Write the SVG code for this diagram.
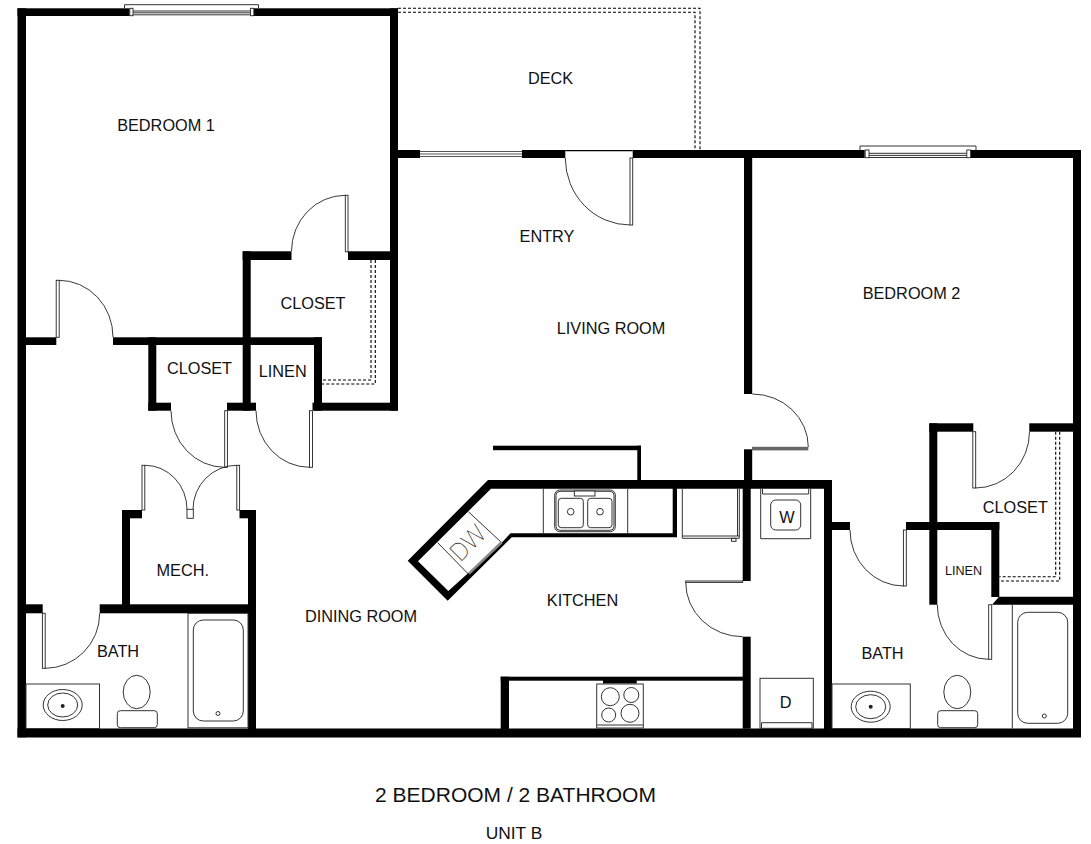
<svg xmlns="http://www.w3.org/2000/svg" width="1091" height="844" viewBox="0 0 1091 844">
<style>
.w{fill:#000;stroke:none}
.t{fill:none;stroke:#333;stroke-width:1}
.a{fill:none;stroke:#222;stroke-width:.9}
.l{fill:#fff;stroke:#222;stroke-width:.9}
.d{fill:none;stroke:#000;stroke-width:1.1;stroke-dasharray:3 2}
.g{fill:#111;font-family:"Liberation Sans",Arial,sans-serif;font-size:16.3px;text-anchor:middle}
</style>
<rect width="1091" height="844" fill="#fff"/>
<g id="walls" class="w">
<rect x="17.5" y="8.3" width="8.5" height="729"/>
<rect x="17.5" y="728.5" width="1063.5" height="9"/>
<rect x="17.5" y="8.3" width="112" height="7.7"/>
<rect x="254" y="8.3" width="144" height="7.7"/>
<rect x="390" y="8.3" width="8" height="402.4"/>
<rect x="398" y="150" width="22" height="8"/>
<rect x="522" y="150" width="43.3" height="8"/>
<rect x="632.7" y="150" width="232" height="8"/>
<rect x="970.7" y="150" width="110.3" height="8"/>
<rect x="1073" y="150" width="8" height="587"/>
<rect x="744" y="158" width="8.2" height="236"/>
<rect x="744" y="449.3" width="8.2" height="35"/>
<rect x="26" y="337.3" width="30.3" height="7.7"/>
<rect x="113" y="337.3" width="209" height="7.7"/>
<rect x="148.3" y="337.3" width="8" height="73.4"/>
<rect x="148.3" y="402.7" width="22.7" height="8"/>
<rect x="227" y="402.7" width="29" height="8"/>
<rect x="242.7" y="251.3" width="8" height="159.4"/>
<rect x="242.7" y="251.3" width="48.8" height="8.7"/>
<rect x="348" y="251.3" width="42" height="8.7"/>
<rect x="314" y="337.3" width="8" height="73.4"/>
<rect x="312.5" y="402.7" width="85.5" height="8"/>
<rect x="122" y="510" width="8" height="100"/>
<rect x="122" y="510" width="20" height="8.3"/>
<rect x="239.5" y="510" width="16.5" height="8.3"/>
<rect x="248" y="510" width="8" height="222"/>
<rect x="26" y="604.3" width="16.7" height="9"/>
<rect x="99.7" y="604.3" width="156.3" height="9"/>
<path d="M488 480H832V488.7H491L418 561.3L448.3 591L468 573.3L501.7 542.7L510.5 533.3H672.7V488.7H677V537.3H511.7L447.7 600.7L407.7 560.7Z"/>
<rect x="637.3" y="445.7" width="3.7" height="36"/>
<rect x="493" y="445.7" width="148" height="4.5"/>
<rect x="742.7" y="480" width="8" height="101"/>
<rect x="742.7" y="636.7" width="8" height="92"/>
<rect x="824" y="480" width="8" height="250"/>
<rect x="500.7" y="676.7" width="8.3" height="54"/>
<rect x="500.7" y="676.7" width="243" height="4"/>
<rect x="603" y="680" width="33.7" height="3.5"/>
<rect x="929.3" y="423.3" width="8" height="181.4"/>
<rect x="929.3" y="423.3" width="44" height="8.4"/>
<rect x="1029.3" y="423.3" width="45" height="8.4"/>
<rect x="906" y="522" width="93.3" height="8"/>
<rect x="832" y="522" width="18" height="8"/>
<rect x="991.3" y="522" width="8" height="75"/>
<path d="M999 596.7H1075V604.7H992Z"/>
</g>
<g id="windows">
<path class="t" d="M124.5 8.3V4.7H258.5V8.3"/>
<rect class="l" x="129.8" y="8.3" width="3.2" height="7.4"/>
<rect class="l" x="250.6" y="8.3" width="3.2" height="7.4"/>
<path class="t" d="M133 11H250.6M133 12.8H250.6M133 14.8H250.6"/>
<path class="t" d="M860 150V146H976V150"/>
<rect class="l" x="865.2" y="150" width="3.8" height="7.7"/>
<rect class="l" x="966.8" y="150" width="3.8" height="7.7"/>
<path class="t" d="M869 153.3H966.8M869 155.4H966.8M869 157.5H966.8"/>
<path d="M420 151.5H522M420 154H522M420 156.5H522" fill="none" stroke="#555" stroke-width="1"/>
</g>
<g id="doors">
<rect class="l" x="56.2" y="280.3" width="3" height="57"/><path class="a" d="M59 280.3A54 56.7 0 0 1 113 337.3"/>
<rect class="l" x="345.3" y="195.3" width="2.7" height="56.5"/><path class="a" d="M345.3 195.3A53.8 56 0 0 0 291.5 251.3"/>
<rect class="l" x="224.7" y="410.7" width="2.7" height="56.6"/><path class="a" d="M171 410.7A53.7 56.6 0 0 0 224.7 467.3"/>
<rect class="l" x="309.5" y="410.7" width="3" height="56.6"/><path class="a" d="M256 410.7A53.5 56.6 0 0 0 309.5 467.3"/>
<rect class="l" x="142" y="465.3" width="2.8" height="44.7"/><path class="a" d="M145 465.3A42 44 0 0 1 187 509.3"/>
<rect class="l" x="236.8" y="465.3" width="2.8" height="44.7"/><path class="a" d="M236.8 465.3A43.8 44 0 0 0 193 509.3"/>
<rect class="l" x="187" y="509.3" width="6.3" height="9"/>
<rect class="l" x="42.4" y="613.3" width="2.8" height="55"/><path class="a" d="M45 668.3A54.7 55 0 0 0 99.7 613.3"/>
<path d="M565.3 150.6H632.7" fill="none" stroke="#000" stroke-width="1.2"/>
<rect class="l" x="630" y="158" width="2.7" height="67"/><path class="a" d="M565.3 158A64.7 67 0 0 0 630 225"/>
<rect x="752" y="446.8" width="56.3" height="3.6" fill="#666"/><path class="a" d="M752.2 394A56.1 53 0 0 1 808.3 447"/>
<rect class="l" x="685.7" y="581" width="57" height="1.4"/><path class="a" d="M685.7 582.4A57 54.3 0 0 0 742.7 636.7"/>
<rect class="l" x="972.8" y="431.7" width="2.9" height="56.3"/><path class="a" d="M975.5 488A54 56.3 0 0 0 1029.5 431.7"/>
<rect class="l" x="903.4" y="530" width="2.9" height="56"/><path class="a" d="M850 530A53.5 56 0 0 0 903.5 586"/>
<rect class="l" x="988.7" y="604.7" width="3" height="54.6"/><path class="a" d="M937.3 604.7A51.4 54.6 0 0 0 988.7 659.3"/>
</g>
<g id="dashed">
<path class="d" d="M398 8.3H700V150M398 12.3H695V150"/>
<path class="d" d="M371 260V380H322M375.3 260V384H322"/>
<path class="d" d="M1055.7 431.7V576.7H999.3M1059.7 431.7V581H999.3"/>
</g>
<g id="kitchen-fixtures">
<path class="t" d="M468.3 511.7L501.7 542.7M437.7 542.7L468.3 574"/>
<path d="M469 573.6L501.7 542.2" fill="none" stroke="#888" stroke-width="2.6"/>
<text x="0" y="0" transform="translate(474 549) rotate(-45)" style="font-family:Roboto,'Liberation Sans',sans-serif;font-weight:100;font-size:25px;text-anchor:middle;fill:#111">DW</text>
<path class="t" d="M543.3 489V533M627.7 489V533"/>
<rect class="t" x="554.7" y="490" width="60.6" height="41.7" rx="5"/>
<rect class="t" x="556" y="491.3" width="58" height="39" rx="4"/>
<rect class="t" x="558.3" y="498.3" width="25" height="29.4" rx="3"/>
<rect class="t" x="587.7" y="498.3" width="24.3" height="29.4" rx="3"/>
<rect class="l" x="574.3" y="491" width="20.7" height="5"/>
<circle class="t" cx="570.7" cy="511.7" r="3.3"/>
<circle class="t" cx="600" cy="511.7" r="3.3"/>
<path class="t" d="M682.3 489V538.3H739.3V489M682.3 536H739.3M737.5 489V536"/>
<rect class="t" x="731.5" y="538.3" width="4.5" height="3"/>
<rect class="t" x="596.7" y="684" width="46.6" height="44"/>
<path class="t" d="M596.7 725H643.3"/>
<circle class="t" cx="610.3" cy="696.7" r="9"/>
<circle class="t" cx="631.3" cy="695" r="7.5"/>
<circle class="t" cx="608.7" cy="715" r="7"/>
<circle class="t" cx="630" cy="713.3" r="9"/>
</g>
<g id="laundry">
<path class="t" d="M760.7 489V538.7H810.7V489M762.5 494H808.7M762.5 489V494M808.7 489V494"/>
<rect class="t" x="770.7" y="500" width="30" height="30" rx="5"/>
<rect class="t" x="760" y="678.3" width="53.3" height="50"/>
<path class="t" d="M761.5 722.7H812V728M761.5 722.7V728"/>
</g>
<g id="bath-1">
<rect class="t" x="26" y="684" width="73.5" height="44.5"/>
<ellipse class="t" cx="62.7" cy="705" rx="19.5" ry="15.5"/>
<ellipse class="t" cx="62.7" cy="705" rx="15" ry="12"/>
<circle cx="62.7" cy="706" r="2" fill="#222"/>
<ellipse class="t" cx="136.7" cy="692" rx="13.5" ry="16.7"/>
<rect class="t" x="117.3" y="710.7" width="40" height="17" rx="3"/>
<rect class="t" x="188" y="613.3" width="60" height="114.5"/>
<rect class="t" x="193.3" y="620" width="50" height="101" rx="10"/>
<circle class="t" cx="218" cy="713.5" r="2"/>
</g>
<g id="bath-2">
<rect class="t" x="832" y="684" width="78.3" height="44.5"/>
<ellipse class="t" cx="870.7" cy="706.7" rx="19.5" ry="15.5"/>
<ellipse class="t" cx="870.7" cy="706.7" rx="15" ry="12"/>
<circle cx="870.7" cy="706.7" r="2" fill="#222"/>
<ellipse class="t" cx="957.3" cy="692" rx="13.5" ry="16.7"/>
<rect class="t" x="937.7" y="710.7" width="40" height="17" rx="3"/>
<path class="t" d="M1012.3 604.7V728.5"/>
<rect class="t" x="1017.7" y="612.3" width="50" height="111" rx="10"/>
<circle class="t" cx="1044.3" cy="716" r="2"/>
</g>
<g id="labels" class="g">
<text x="166" y="131">BEDROOM 1</text>
<text x="550.5" y="84">DECK</text>
<text x="547" y="241.5">ENTRY</text>
<text x="611" y="334">LIVING ROOM</text>
<text x="911.5" y="299">BEDROOM 2</text>
<text x="313" y="309">CLOSET</text>
<text x="199.5" y="374">CLOSET</text>
<text x="282.7" y="376.7">LINEN</text>
<text x="182.7" y="575.7">MECH.</text>
<text x="118" y="656.7">BATH</text>
<text x="361" y="621.5">DINING ROOM</text>
<text x="582.5" y="605.5">KITCHEN</text>
<text x="787" y="522.7">W</text>
<text x="785.7" y="708.3">D</text>
<text x="1015.3" y="512.5">CLOSET</text>
<text x="963.5" y="575" style="font-size:12.6px">LINEN</text>
<text x="882.5" y="658.7">BATH</text>
<text x="515.5" y="801.7" style="font-size:21px">2 BEDROOM / 2 BATHROOM</text>
<text x="514" y="838.5" style="font-size:17.4px">UNIT B</text>
</g>
</svg>
